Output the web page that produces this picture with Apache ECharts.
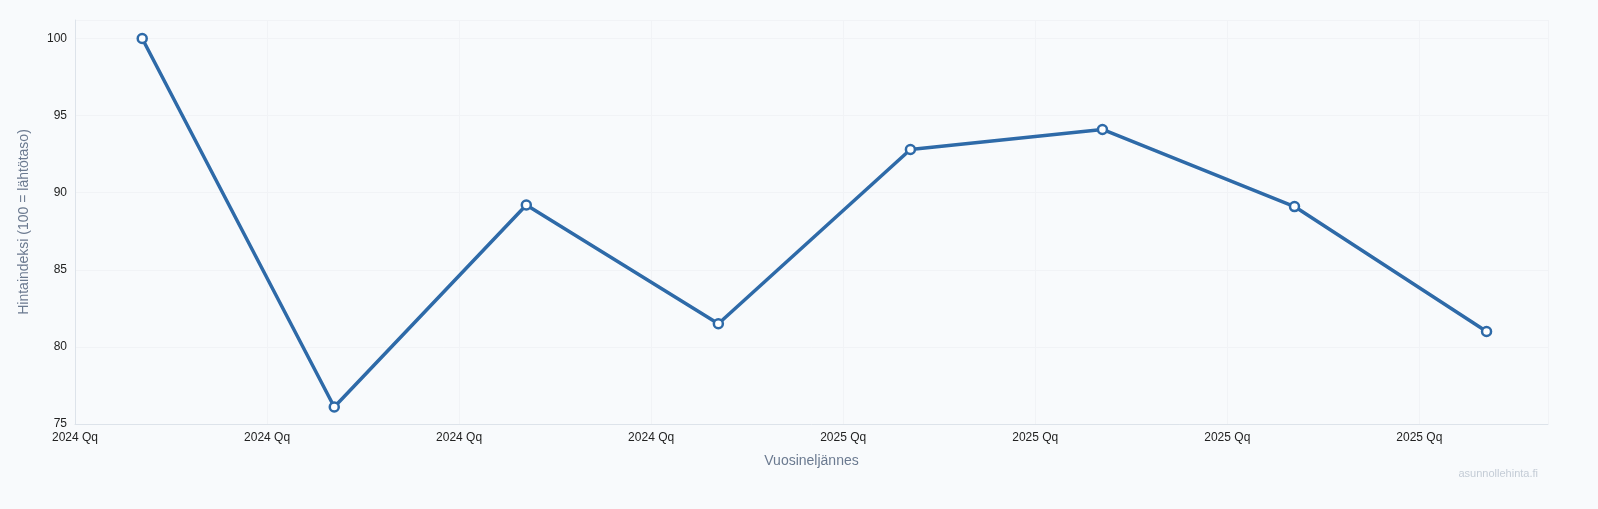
<!DOCTYPE html>
<html><head><meta charset="utf-8">
<script src="https://cdn.jsdelivr.net/npm/echarts@6/dist/echarts.min.js"></script>
<style>html,body{margin:0;padding:0;background:#f8fafc}#c{width:1598px;height:509px}</style>
</head><body><div id="c"></div>
<script>
const positions = [0.35,1.35,2.35,3.35,4.35,5.35,6.35,7.35];
const values = [100, 76.1, 89.2, 81.5, 92.8, 94.1, 89.1, 81.0];
const tickLabels = ['2024 Qq','2024 Qq','2024 Qq','2024 Qq','2025 Qq','2025 Qq','2025 Qq','2025 Qq'];
const chart = echarts.init(document.getElementById('c'));
chart.setOption({
  backgroundColor:'#f8fafc',
  textStyle:{fontFamily:'Liberation Sans, Arial, sans-serif'},
  grid:{left:75,right:50,top:20,bottom:85},
  graphic:[{type:'text',right:60,bottom:30,style:{text:'asunnollehinta.fi',fill:'#c4ccd6',fontSize:11,fontFamily:'Liberation Sans, Arial'}}],
  xAxis:{type:'value',min:0,max:7.67,interval:1,
    name:'Vuosineljännes',nameLocation:'middle',nameGap:30,nameTextStyle:{color:'#6b7a90',fontSize:14},
    axisLine:{show:true,lineStyle:{color:'#dde3ea'}},axisTick:{show:false},
    splitLine:{show:true,lineStyle:{color:'#f1f3f6',width:1}},
    axisLabel:{color:'#222',fontSize:12,showMaxLabel:false,formatter:v=>{const i=Math.round(v);return Math.abs(v-i)<1e-6?(tickLabels[i]||''):'';}}},
  yAxis:{type:'value',min:75,max:101.2,interval:5,
    name:'Hintaindeksi (100 = lähtötaso)',nameLocation:'middle',nameGap:44,nameTextStyle:{color:'#6b7a90',fontSize:14},
    axisLine:{show:true,lineStyle:{color:'#dde3ea'}},axisTick:{show:false},
    splitLine:{show:true,lineStyle:{color:'#f1f3f6',width:1}},
    axisLabel:{color:'#222',fontSize:12,formatter:v=>(v%5===0?String(v):'')}},
  series:[{type:'line',data:positions.map((p,i)=>[p,values[i]]),
    lineStyle:{color:'#2e6aa8',width:3.5},itemStyle:{color:'#fff',borderColor:'#2e6aa8',borderWidth:2.5},
    symbol:'circle',symbolSize:9}]
});
</script></body></html>
